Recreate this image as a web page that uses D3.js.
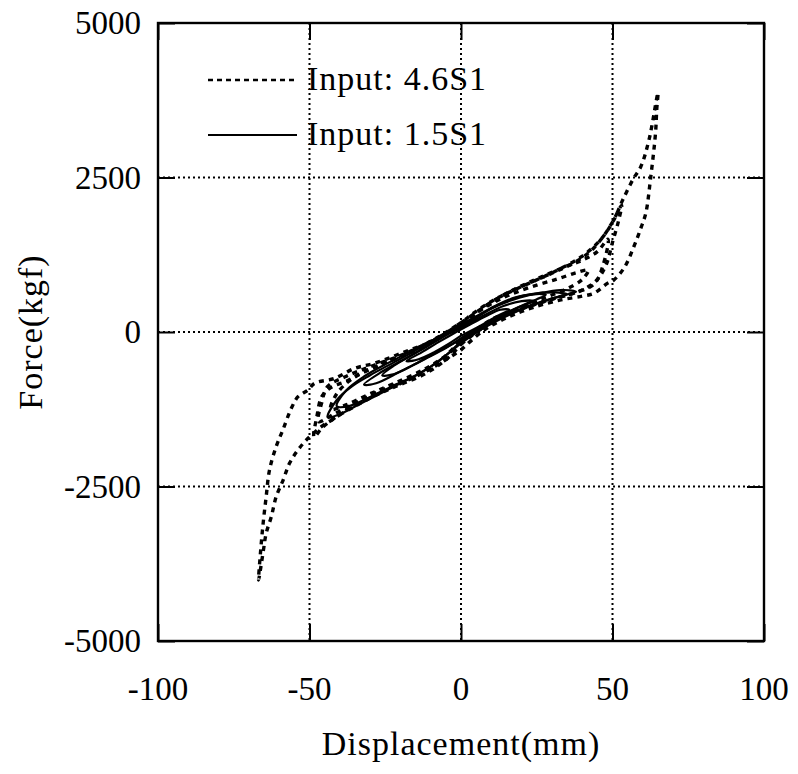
<!DOCTYPE html>
<html><head><meta charset="utf-8">
<script src="https://cdn.jsdelivr.net/npm/d3@7/dist/d3.min.js"></script>
<style>body{margin:0;background:#fff}svg{display:block}</style>
</head><body><svg id="c" width="798" height="774"></svg>
<script>
const xTicks = [-100, -50, 0, 50, 100];
const yTicks = [-5000, -2500, 0, 2500, 5000];
const seriesNames = ["Input: 4.6S1", "Input: 1.5S1"];

// Input 4.6S1 (dashed) - cycles of [displacement mm, force kgf]
const dashCycle1 = [[0,-291],[7.6,30],[16,250],[24,400],[33,520],[40,580],[44,630],[48.4,790],[50.4,840],[54,1050],[57,1375],[59.5,1700],[61,1925],[62.6,2500],[64.2,3220],[64.6,3600],[65,3870],
 [62,3100],[59.3,2670],[57,2490],[53.4,2140],[50.4,1810],[46,1490],[39.5,1210],[29.7,950],[19.8,730],[10.9,520],[4,300],[0,150],[-8.8,-129],[-19.8,-345],[-28.6,-507],[-35.1,-588],[-41.7,-750],[-48.3,-830],[-50.5,-938],[-53.8,-1047],[-56,-1235],[-58.8,-1586],[-61,-1855],[-63.2,-2233],[-64.3,-2665],[-65.3,-3096],[-66.1,-3527],[-66.8,-4013],
 [-65.2,-3528],[-64.3,-3258],[-62.6,-2988],[-61,-2665],[-58.7,-2395],[-56.6,-2125],[-53.8,-1909],[-50.5,-1720],[-46.1,-1532],[-41.7,-1397],[-36.2,-1208],[-28.6,-993],[-19.8,-830],[-8.8,-561],[0,-291]];
const dashCycle2 = [[0,-200],[8,100],[16,300],[24,440],[32,560],[40,680],[45,850],[48,1100],[50,1450],[52,1800],[53,2050],
 [50,1780],[47,1550],[43,1320],[38,1140],[30,950],[22,780],[14,600],[6,350],[0,130],[-8,-120],[-16,-320],[-24,-480],[-32,-640],[-38,-800],[-43,-900],[-46,-1050],[-47.5,-1350],[-48.5,-1700],
 [-46,-1560],[-42,-1400],[-36,-1230],[-28,-1020],[-20,-850],[-12,-680],[-5,-450],[0,-200]];
const dashCycle3 = [[0,-150],[10,200],[20,380],[30,530],[38,640],[44,780],[47,1100],[48.5,1500],
 [45,1300],[40,1160],[34,1050],[26,880],[18,700],[10,480],[0,150],[-10,-150],[-20,-380],[-30,-560],[-38,-720],[-44,-880],[-46,-1150],[-47,-1450],
 [-42,-1330],[-35,-1150],[-27,-960],[-18,-780],[-9,-560],[0,-150]];
const dashCycle4 = [[0,-120],[10,180],[20,400],[28,560],[35,700],[40,850],[42,1000],
 [38,960],[32,860],[25,760],[16,600],[8,400],[0,120],[-8,-100],[-18,-350],[-28,-560],[-36,-760],[-41,-1000],[-43,-1250],
 [-38,-1180],[-30,-1000],[-22,-830],[-12,-600],[-5,-380],[0,-120]];

// Input 1.5S1 (solid)
const solidCycle1 = [[0,-180],[6,20],[12,200],[18,340],[24,450],[30,540],[35,610],
 [31,640],[25,620],[18,560],[12,440],[6,280],[0,120],[-6,-40],[-12,-210],[-18,-380],[-24,-540],[-30,-700],[-36,-880],[-41,-1100],[-44,-1380],
 [-40,-1330],[-34,-1180],[-28,-1030],[-22,-880],[-16,-730],[-10,-560],[-5,-380],[0,-180]];
const solidCycle2 = [[0,-120],[6,50],[12,220],[18,380],[24,500],
 [20,500],[14,420],[8,280],[2,120],[-4,-30],[-10,-200],[-16,-370],[-22,-540],[-26,-700],
 [-22,-680],[-16,-540],[-10,-380],[-5,-250],[0,-120]];
const solidCycle3 = [[0,-60],[6,90],[12,260],[16,360],[13,360],[8,250],[3,120],[-3,-40],[-8,-180],[-13,-330],[-18,-470],[-14,-440],[-9,-330],[-4,-190],[0,-60]];
const solidCycle4 = [[0,-100],[8,130],[16,330],[22,470],[28,600],[24,610],[17,520],[10,380],[4,200],[-2,40],[-10,-190],[-18,-420],[-26,-640],[-32,-850],[-28,-830],[-20,-640],[-12,-440],[-5,-260],[0,-100]];
const solidCycle5 = [[0,-150],[8,80],[16,280],[24,440],[32,570],[38,650],[34,680],[27,640],[20,580],[12,430],[5,240],[0,100],[-8,-100],[-16,-300],[-24,-500],[-32,-720],[-38,-950],[-41,-1200],[-37,-1200],[-30,-1050],[-22,-860],[-14,-680],[-7,-460],[0,-150]];

const dashed = [dashCycle1, dashCycle2, dashCycle3, dashCycle4];
const solid = [solidCycle1, solidCycle2, solidCycle3, solidCycle4, solidCycle5];

const FONT = "'Liberation Serif', 'Times New Roman', Times, serif";
const L = 158, R = 764, T = 23, B = 641;
const svg = d3.select("#c").attr("font-family", FONT);
const x = d3.scaleLinear().domain([-100, 100]).range([L, R]);
const y = d3.scaleLinear().domain([-5000, 5000]).range([B, T]);

// grid (dotted)
const g = svg.append("g");
xTicks.slice(1, -1).forEach(v => g.append("line").attr("x1", x(v)).attr("x2", x(v)).attr("y1", T).attr("y2", B)
  .attr("stroke", "#000").attr("stroke-width", 2).attr("stroke-dasharray", "2,3"));
yTicks.slice(1, -1).forEach(v => g.append("line").attr("y1", y(v)).attr("y2", y(v)).attr("x1", L).attr("x2", R)
  .attr("stroke", "#000").attr("stroke-width", 2).attr("stroke-dasharray", "2,3"));

// axes with inward ticks
const tl = 17;
svg.append("g").attr("transform", `translate(0,${B})`)
  .call(d3.axisBottom(x).tickValues(xTicks).tickSizeInner(-tl).tickSizeOuter(0).tickFormat(""));
svg.append("g").attr("transform", `translate(0,${T})`)
  .call(d3.axisTop(x).tickValues(xTicks).tickSizeInner(-tl).tickSizeOuter(0).tickFormat(""));
svg.append("g").attr("transform", `translate(${L},0)`)
  .call(d3.axisLeft(y).tickValues(yTicks).tickSizeInner(-tl).tickSizeOuter(0).tickFormat(""));
svg.append("g").attr("transform", `translate(${R},0)`)
  .call(d3.axisRight(y).tickValues(yTicks).tickSizeInner(-tl).tickSizeOuter(0).tickFormat(""));
svg.selectAll(".domain").remove();
svg.selectAll(".tick line").attr("stroke", "#000").attr("stroke-width", 2);

// frame
svg.append("rect").attr("x", L).attr("y", T).attr("width", R - L).attr("height", B - T)
  .attr("fill", "none").attr("stroke", "#000").attr("stroke-width", 2.4);

// tick labels
svg.append("g").selectAll("text").data(xTicks).join("text")
  .attr("font-family", FONT).attr("x", d => x(d)).attr("y", 700).attr("text-anchor", "middle").attr("font-size", 33)
  .text(d => d);
svg.append("g").selectAll("text").data(yTicks).join("text")
  .attr("font-family", FONT).attr("x", 141).attr("y", d => y(d) + 11).attr("text-anchor", "end").attr("font-size", 33)
  .text(d => d);

// axis titles
svg.append("text").attr("font-family", FONT).attr("x", (L + R) / 2).attr("y", 755).attr("text-anchor", "middle")
  .attr("font-size", 34).attr("letter-spacing", 1).text("Displacement(mm)");
svg.append("text").attr("font-family", FONT).attr("transform", `translate(42,${(T + B) / 2}) rotate(-90)`).attr("text-anchor", "middle")
  .attr("font-size", 34).attr("letter-spacing", 1).text("Force(kgf)");

// data
const line = d3.line().x(d => x(d[0])).y(d => y(d[1])).curve(d3.curveCatmullRom.alpha(0.5));
const plot = svg.append("g");
solid.forEach(c => plot.append("path").attr("d", line(c)).attr("fill", "none")
  .attr("stroke", "#000").attr("stroke-width", 2.2));
dashed.forEach(c => plot.append("path").attr("d", line(c)).attr("fill", "none")
  .attr("stroke", "#000").attr("stroke-width", 3.4).attr("stroke-dasharray", "5,5"));

// legend
const leg = svg.append("g");
leg.append("line").attr("x1", 208).attr("x2", 297).attr("y1", 80).attr("y2", 80)
  .attr("stroke", "#000").attr("stroke-width", 2.4).attr("stroke-dasharray", "5,4");
leg.append("line").attr("x1", 208).attr("x2", 297).attr("y1", 135).attr("y2", 135)
  .attr("stroke", "#000").attr("stroke-width", 2);
leg.selectAll("text").data(seriesNames).join("text")
  .attr("font-family", FONT).attr("x", 307).attr("y", (d, i) => 90 + i * 55).attr("font-size", 34).attr("letter-spacing", 1)
  .text(d => d);
</script></body></html>
